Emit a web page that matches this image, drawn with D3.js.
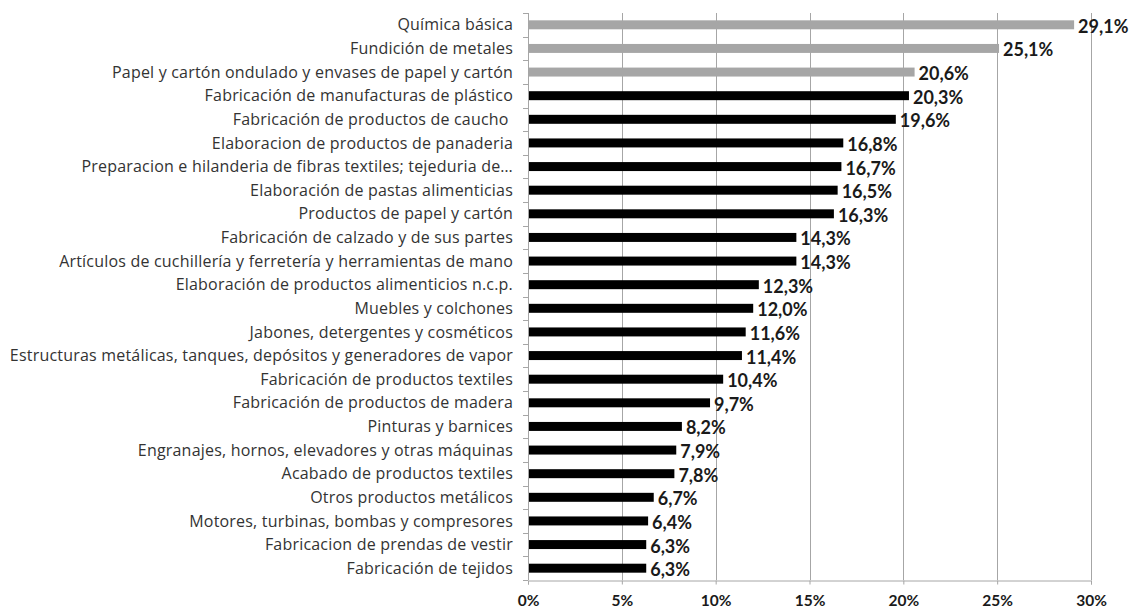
<!DOCTYPE html>
<html><head><meta charset="utf-8">
<script src="https://cdn.jsdelivr.net/npm/d3@7"></script>
<style>body{margin:0;background:#fff}svg{display:block}</style>
</head><body>
<svg id="c" width="1135" height="610"></svg>
<script>
const categories = [
"Química básica",
"Fundición de metales",
"Papel y cartón ondulado y envases de papel y cartón",
"Fabricación de manufacturas de plástico",
"Fabricación de productos de caucho ",
"Elaboracion de productos de panaderia",
"Preparacion e hilanderia de fibras textiles; tejeduria de…",
"Elaboración de pastas alimenticias",
"Productos de papel y cartón",
"Fabricación de calzado y de sus partes",
"Artículos de cuchillería y ferretería y herramientas de mano",
"Elaboración de productos alimenticios n.c.p.",
"Muebles y colchones",
"Jabones, detergentes y cosméticos",
"Estructuras metálicas, tanques, depósitos y generadores de vapor",
"Fabricación de productos textiles",
"Fabricación de productos de madera",
"Pinturas y barnices",
"Engranajes, hornos, elevadores y otras máquinas",
"Acabado de productos textiles",
"Otros productos metálicos",
"Motores, turbinas, bombas y compresores",
"Fabricacion de prendas de vestir",
"Fabricación de tejidos"
];
const values = [29.1,25.1,20.6,20.3,19.6,16.8,16.7,16.5,16.3,14.3,14.3,12.3,12.0,11.6,11.4,10.4,9.7,8.2,7.9,7.8,6.7,6.4,6.3,6.3];
const highlighted = [true,true,true,false,false,false,false,false,false,false,false,false,false,false,false,false,false,false,false,false,false,false,false,false];
const xTicks = [0,5,10,15,20,25,30];

const svg = d3.select("#c");
const pLeft = 528, pRight = 1091, pTop = 13, pBottom = 580;
const x = d3.scaleLinear().domain([0,30]).range([pLeft,pRight]);
const y = d3.scaleBand().domain(categories).range([pTop,pBottom]).paddingInner(0.62).paddingOuter(0.31);
const axisColor = "#a6a6a6";
const font = "Lato, 'Open Sans', sans-serif";
const labelFont = "'Open Sans', Lato, sans-serif";

// gridlines
svg.append("g").selectAll("line").data(xTicks.slice(1)).join("line")
  .attr("x1",d=>Math.round(x(d))+0.5).attr("x2",d=>Math.round(x(d))+0.5)
  .attr("y1",pTop).attr("y2",pBottom).attr("stroke",axisColor).attr("stroke-width",1);

// bottom axis
const xAxis = d3.axisBottom(x).tickValues(xTicks).tickFormat(d=>d+"%").tickSize(4).tickPadding(10);
const gx = svg.append("g").attr("transform",`translate(0,${pBottom+0.5})`).call(xAxis);
gx.select(".domain").attr("stroke",axisColor);
gx.selectAll(".tick line").attr("stroke",axisColor);
gx.selectAll(".tick text").attr("font-family",font).attr("font-weight","bold").attr("font-size","15.5px").attr("fill","#1a1a1a");

// left axis
const boundaries = d3.range(categories.length+1).map(i=>pTop + i*(pBottom-pTop)/categories.length);
const gy = svg.append("g");
gy.append("line").attr("x1",pLeft+0.5).attr("x2",pLeft+0.5).attr("y1",pTop).attr("y2",pBottom).attr("stroke",axisColor);
gy.selectAll(".tk").data(boundaries).join("line").attr("class","tk")
  .attr("x1",pLeft-5).attr("x2",pLeft).attr("y1",d=>Math.round(d)+0.5).attr("y2",d=>Math.round(d)+0.5).attr("stroke",axisColor);

// category labels
svg.append("g").selectAll("text").data(categories).join("text")
  .attr("x",pLeft-15).attr("y",d=>y(d)+y.bandwidth()/2)
  .attr("dy","0.35em").attr("text-anchor","end")
  .attr("font-family",labelFont).attr("font-size","16px").attr("letter-spacing","0.2px").attr("fill","#333")
  .style("white-space","pre")
  .text(d=>d);

// bars
svg.append("g").selectAll("rect").data(categories).join("rect")
  .attr("x",pLeft+1).attr("y",d=>y(d))
  .attr("width",(d,i)=>x(values[i])-pLeft-1).attr("height",y.bandwidth())
  .attr("fill",(d,i)=>highlighted[i]?"#a6a6a6":"#000");

// value labels
svg.append("g").selectAll("text").data(categories).join("text")
  .attr("x",(d,i)=>x(values[i])+4).attr("y",d=>y(d)+y.bandwidth()/2+8)
  .attr("font-family",font).attr("font-weight","bold").attr("font-size","18px").attr("fill","#1a1a1a")
  .text((d,i)=>values[i].toFixed(1).replace(".",",")+"%");
</script>
</body></html>
